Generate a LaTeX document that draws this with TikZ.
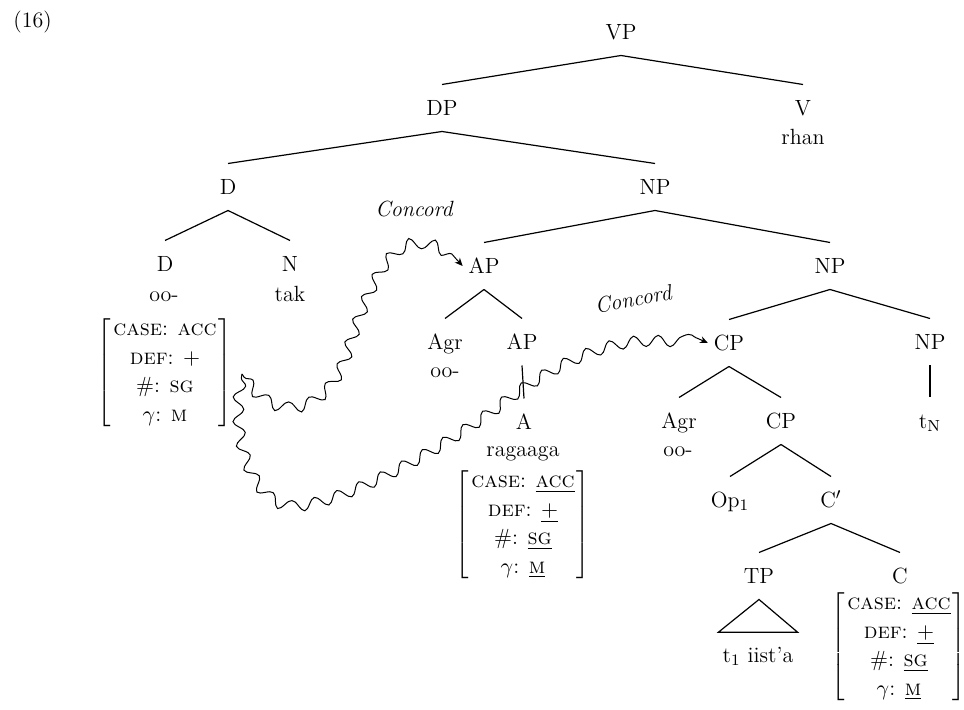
\documentclass[tikz,border=0pt]{standalone}
\usetikzlibrary{decorations.pathmorphing,arrows.meta}

% attribute-value matrix for case, definiteness, number and gender
\newcommand\featmat[4]{{\renewcommand\arraystretch{1.05}%
  $\left[\begin{tabular}{@{\hspace{1pt}}c@{\hspace{1pt}}}
    \textsc{case}: #1\\
    \textsc{def}: #2\\
    \#: #3\\
    $\gamma$: #4
  \end{tabular}\right]$}}

\begin{document}
\begin{tikzpicture}[
    x=0.5pt, y=-0.5pt,
    font=\fontsize{11}{13.6}\selectfont,
    cat/.style={inner sep=0pt, text height=7.5pt, text depth=0pt,
                outer xsep=3pt, outer ysep=8pt},
    word/.style={inner sep=0pt, anchor=base},
    branch/.style={line width=0.6pt},
    agree/.style={line width=0.5pt, decorate,
      decoration={snake, segment length=12pt, amplitude=2.8pt,
                  pre length=2pt, post length=5pt},
      -{Stealth[length=4pt, width=3.5pt]}},
    lbl/.style={font=\fontsize{11}{13.6}\selectfont\itshape, inner sep=0pt}
  ]
  \useasboundingbox (0,0) rectangle (964,710);

  \node[anchor=west, inner sep=0pt] (exnum) at (13,22) {(16)};

  % categories and words
  \node[cat] (VP)   at (621,32)  {VP};
  \node[cat] (DP)   at (442,108) {DP};
  \node[cat] (V)    at (803,108) {V};
  \node[word] (rhan) at (803,145) {rhan};
  \node[cat] (D1)   at (228,187) {D};
  \node[cat] (NP1)  at (655,187) {NP};
  \node[cat] (D2)   at (165,264) {D};
  \node[word] (oo1) at (164,302) {oo-};
  \node[inner sep=0pt] (Dfeat) at (165,373) {\featmat{\textsc{acc}}{$+$}{\textsc{sg}}{\textsc{m}}};
  \node[cat] (N)    at (290,264) {N};
  \node[word] (tak) at (290,302) {tak};
  \node[cat] (AP1)  at (484,266) {AP};
  \node[cat] (NP2)  at (830,266) {NP};
  \node[cat] (Agr1) at (445,342) {Agr};
  \node[word] (oo2) at (445,378) {oo-};
  \node[cat] (AP2)  at (522,342) {AP};
  \node[cat] (A)    at (524,422) {A};
  \node[word] (ragaaga) at (523,457) {ragaaga};
  \node[inner sep=0pt] (Afeat) at (523,525) {\featmat{\underline{\textsc{acc}}}{\underline{$+$}}{\underline{\textsc{sg}}}{\underline{\textsc{m}}}};
  \node[cat] (CP1)  at (729,343) {CP};
  \node[cat] (NP3)  at (930,342) {NP};
  \node[cat] (tN)   at (930,421) {t$_{\mathrm{N}}$};
  \node[cat] (Agr2) at (679,421) {Agr};
  \node[word] (oo3) at (678,457) {oo-};
  \node[cat] (CP2)  at (781,421) {CP};
  \node[cat] (Op)   at (730,500) {Op$_1$};
  \node[cat] (Cbar) at (831,500) {C$'$};
  \node[cat] (TP)   at (759,576) {TP};
  \node[cat] (C)    at (900,576) {C};
  \node[word, inner xsep=2pt, inner ysep=7pt] (tiista) at (758,662) {t$_1$ iist’a};
  \node[inner sep=0pt] (Cfeat) at (899,647) {\featmat{\underline{\textsc{acc}}}{\underline{$+$}}{\underline{\textsc{sg}}}{\underline{\textsc{m}}}};

  % branches
  \foreach \p/\c in {VP/DP, VP/V, DP/D1, DP/NP1, D1/D2, D1/N,
                     NP1/AP1, NP1/NP2, AP1/Agr1, AP1/AP2, AP2/A,
                     NP2/CP1, NP2/NP3, NP3/tN, CP1/Agr2, CP1/CP2,
                     CP2/Op, CP2/Cbar, Cbar/TP, Cbar/C}
    \draw[branch] (\p.south) -- (\c.north);

  % TP abbreviated as a triangle
  \draw[branch] (TP.south) -- (tiista.north east) -- (tiista.north west) -- cycle;

  % concord arrows from the determiner's features
  \coordinate (src) at (242,374);
  \draw[agree] (src) .. controls (270,418) and (322,412) .. (343,350)
                     .. controls (365,280) and (385,238) .. (415,238)
                     .. controls (438,238) and (450,252) .. (AP1.west);
  \draw[agree] (src) .. controls (230,440) and (258,505) .. (300,500)
                     .. controls (350,494) and (440,445) .. (500,400)
                     .. controls (545,365) and (600,335) .. (650,335)
                     .. controls (675,335) and (695,335) .. (CP1.west);

  \node[lbl] (conc1) at (414,209) {Concord};
  \node[lbl, rotate=10] (conc2) at (633,299) {Concord};
\end{tikzpicture}
\end{document}
